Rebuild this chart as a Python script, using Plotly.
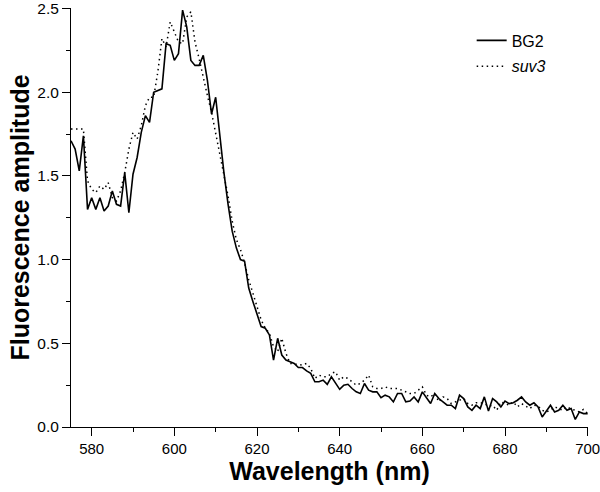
import plotly.graph_objects as go

wavelength = list(range(575, 701))

bg2 = [
    1.71, 1.66, 1.53, 1.74, 1.30, 1.37, 1.30, 1.37, 1.29, 1.32,   # 575-584
    1.41, 1.33, 1.32, 1.52, 1.28, 1.51, 1.61, 1.76, 1.86, 1.82,   # 585-594
    2.00, 2.01, 2.02, 2.29, 2.28, 2.19, 2.23, 2.49, 2.39, 2.19,   # 595-604
    2.16, 2.16, 2.22, 2.07, 1.87, 1.97, 1.74, 1.52, 1.33, 1.17,   # 605-614
    1.07, 1.00, 0.99, 0.83, 0.75, 0.68, 0.60, 0.59, 0.55, 0.40,   # 615-624
    0.53, 0.43, 0.40, 0.39, 0.38, 0.355, 0.355, 0.335, 0.32, 0.27,  # 625-634
    0.27, 0.28, 0.255, 0.30, 0.26, 0.225, 0.25, 0.255, 0.23, 0.21,  # 635-644
    0.20, 0.26, 0.22, 0.21, 0.21, 0.175, 0.19, 0.18, 0.15, 0.20,  # 645-654
    0.20, 0.15, 0.155, 0.18, 0.15, 0.21, 0.175, 0.14, 0.20, 0.17,  # 655-664
    0.15, 0.13, 0.13, 0.11, 0.19, 0.17, 0.12, 0.10, 0.13, 0.11,   # 665-674
    0.18, 0.095, 0.17, 0.15, 0.12, 0.155, 0.14, 0.145, 0.16, 0.18,  # 675-684
    0.15, 0.13, 0.145, 0.12, 0.06, 0.095, 0.13, 0.09, 0.10, 0.13,  # 685-694
    0.10, 0.11, 0.045, 0.09, 0.08, 0.08,                          # 695-700
]

suv3 = [
    1.78, 1.78, 1.78, 1.78, 1.47, 1.42, 1.40, 1.44, 1.42, 1.46,   # 575-584
    1.37, 1.35, 1.41, 1.52, 1.66, 1.76, 1.72, 1.80, 1.92, 1.97,   # 585-594
    1.97, 2.12, 2.32, 2.27, 2.42, 2.36, 2.30, 2.29, 2.45, 2.48,   # 595-604
    2.30, 2.20, 2.08, 1.98, 1.88, 1.76, 1.62, 1.50, 1.38, 1.23,   # 605-614
    1.12, 1.06, 0.98, 0.88, 0.80, 0.72, 0.64, 0.59, 0.56, 0.48,   # 615-624
    0.45, 0.53, 0.44, 0.38, 0.375, 0.373, 0.37, 0.38, 0.35, 0.29,  # 625-634
    0.31, 0.30, 0.30, 0.32, 0.33, 0.28, 0.30, 0.29, 0.27, 0.25,   # 635-644
    0.26, 0.28, 0.31, 0.24, 0.23, 0.23, 0.24, 0.23, 0.23, 0.23,   # 645-654
    0.22, 0.21, 0.20, 0.20, 0.22, 0.24, 0.19, 0.18, 0.20, 0.15,   # 655-664
    0.18, 0.17, 0.14, 0.15, 0.16, 0.17, 0.14, 0.13, 0.145, 0.145,  # 665-674
    0.14, 0.125, 0.13, 0.10, 0.15, 0.14, 0.13, 0.15, 0.12, 0.14,  # 675-684
    0.125, 0.11, 0.13, 0.125, 0.10, 0.09, 0.10, 0.12, 0.11, 0.10,  # 685-694
    0.12, 0.107, 0.10, 0.09, 0.105, 0.08,                         # 695-700
]

x_ticks = [580, 600, 620, 640, 660, 680, 700]
y_ticks = [0.0, 0.5, 1.0, 1.5, 2.0, 2.5]

FONT = "Arial, Liberation Sans, Helvetica, sans-serif"

fig = go.Figure()
fig.add_trace(go.Scatter(
    x=wavelength, y=bg2, mode="lines", name="BG2", legendgroup="a",
    line=dict(color="black", width=1.6),
))
fig.add_trace(go.Scatter(
    x=wavelength, y=suv3, mode="lines", name="<i>suv3</i>", legendgroup="b",
    line=dict(color="black", width=1.5, dash="1.5px,3.5px"),
))

fig.update_layout(
    width=600, height=492,
    margin=dict(l=71, r=12, t=8, b=65),
    paper_bgcolor="white", plot_bgcolor="white",
    font=dict(family=FONT, color="black", size=15),
    showlegend=True,
    legend=dict(
        x=0.775, y=0.963, xanchor="left", yanchor="top",
        bgcolor="rgba(0,0,0,0)", font=dict(size=16, family=FONT),
        tracegroupgap=2,
    ),
    xaxis=dict(
        range=[575, 700.08], tickvals=x_ticks, ticks="outside", ticklen=8,
        tickwidth=1, tickcolor="black", showline=True, linecolor="black",
        linewidth=1, showgrid=False, zeroline=False, automargin=False,
        tickfont=dict(size=15), ticklabeloverflow="allow",
        minor=dict(ticks="outside", ticklen=4, dtick=10, tick0=570,
                   tickcolor="black", showgrid=False),
        title=dict(text="<b>Wavelength (nm)</b>", font=dict(size=25),
                   standoff=6),
    ),
    yaxis=dict(
        range=[0, 2.503], tickvals=y_ticks, tickformat=".1f", ticks="outside",
        ticklen=8, tickwidth=1, tickcolor="black", showline=True,
        linecolor="black", linewidth=1, showgrid=False, zeroline=False,
        automargin=False, tickfont=dict(size=15.5), ticklabeloverflow="allow",
        minor=dict(ticks="outside", ticklen=4, dtick=0.25, tick0=0,
                   tickcolor="black", showgrid=False),
        title=dict(text="<b>Fluorescence amplitude</b>", font=dict(size=25),
                   standoff=0),
    ),
)

fig.write_html(
    "out.html",
    config={"displayModeBar": False},
    post_script="document.body.style.margin='0';document.body.style.padding='0';",
)
